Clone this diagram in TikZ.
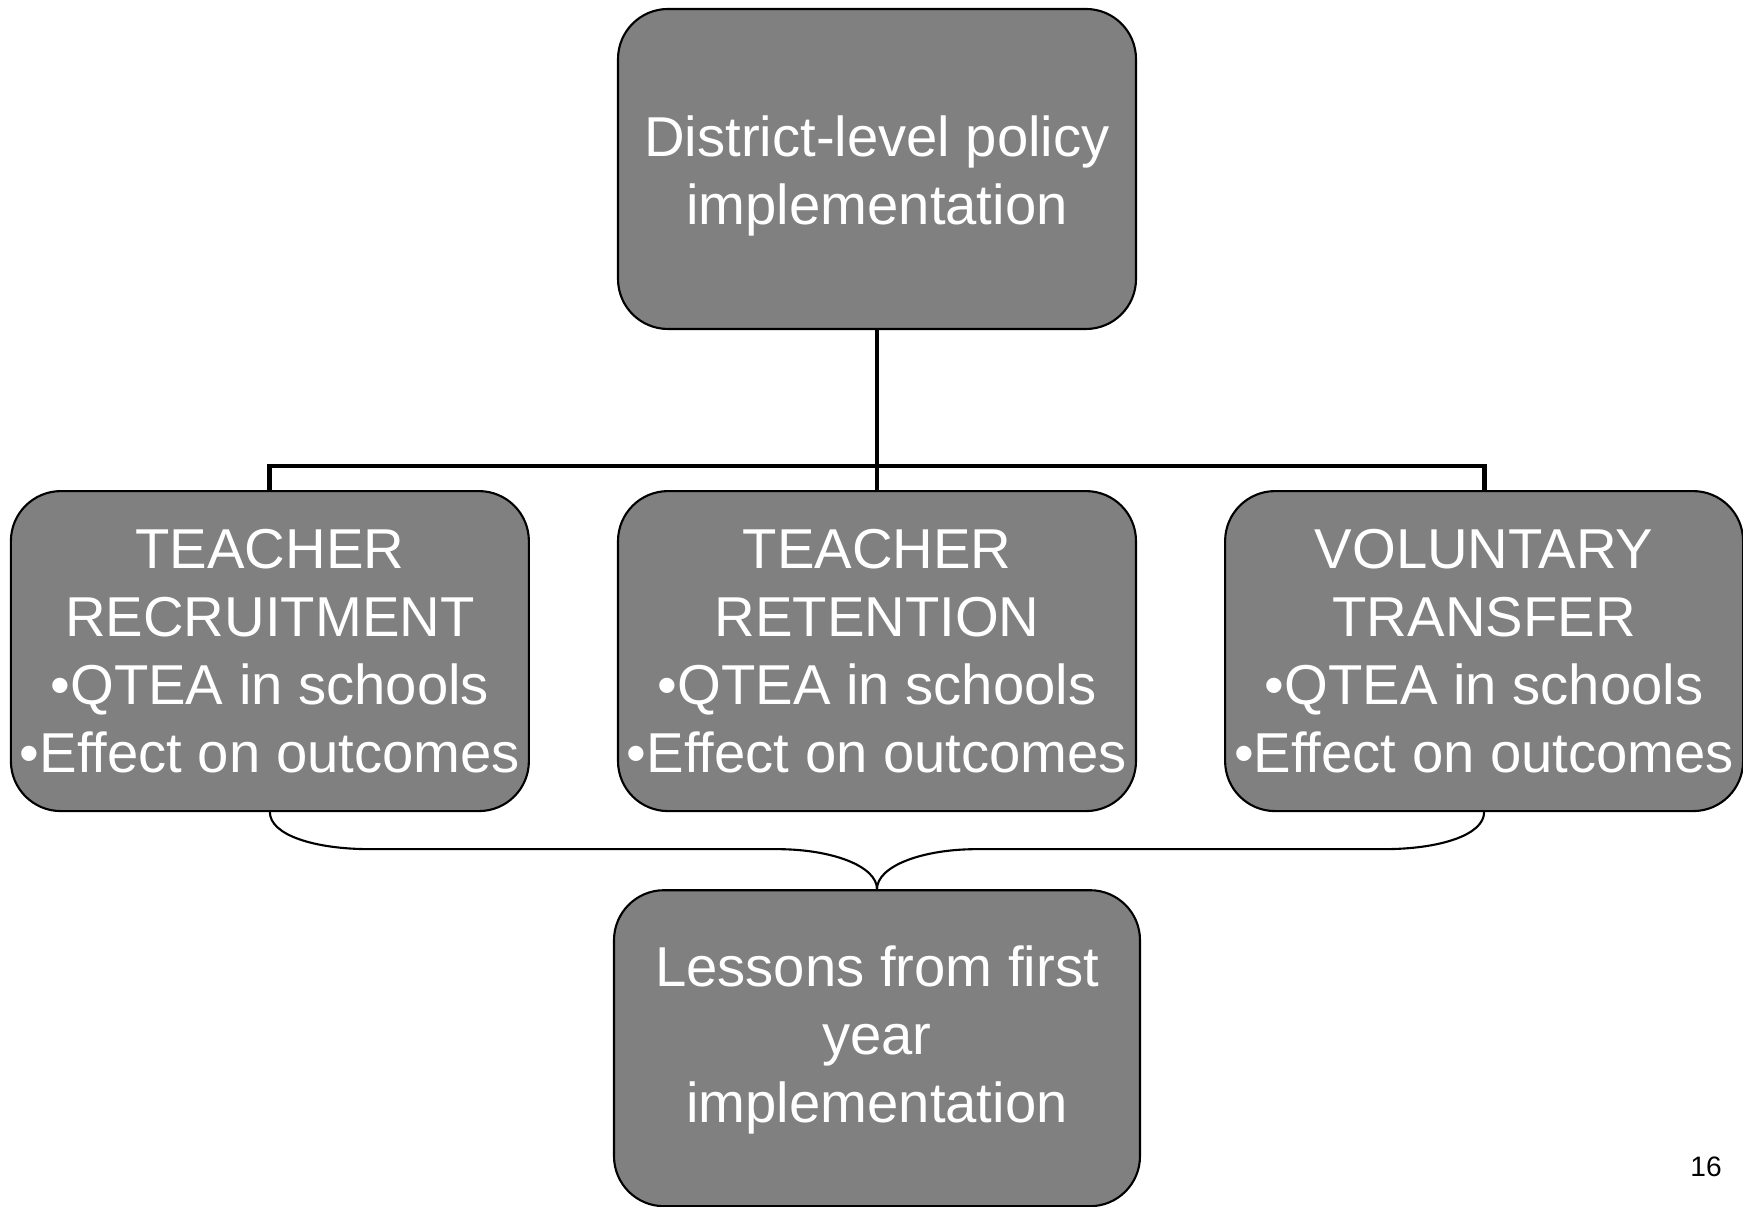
\documentclass[tikz,border=0pt]{standalone}
\usepackage{fontspec}
\setmainfont{Liberation Sans}
\usepackage{tikz}
\usetikzlibrary{calc}
\usetikzlibrary{positioning}
\definecolor{boxgray}{RGB}{128,128,128}

\begin{document}
\begin{tikzpicture}[node distance=0.87cm,
  block/.style={draw=black,line width=0.6pt,fill=boxgray,text=white,rounded corners=0.5cm,
    minimum width=5.18cm,minimum height=3.2cm,inner sep=1pt,align=center,
    font=\fontsize{16}{19.3}\selectfont},
  bus/.style={draw=black,line width=1.4pt},
  brace/.style={draw=black,line width=0.6pt}]

\useasboundingbox (0,0) rectangle (17.43,12.07);

\node[block] (policy) at (8.77,10.38) {\rule{0pt}{15.8pt}District-level policy\\implementation};

\node[block,below=1.6cm of policy] (retention) {TEACHER\\RETENTION\\•QTEA in schools\\•Effect on outcomes};
\node[block,left=of retention] (recruit) {TEACHER\\RECRUITMENT\\•QTEA in schools\\•Effect on outcomes};
\node[block,right=of retention] (transfer) {VOLUNTARY\\TRANSFER\\•QTEA in schools\\•Effect on outcomes};

\node[block,minimum width=5.26cm,minimum height=3.16cm,below=0.77cm of retention] (lessons) {Lessons from first\\year\\implementation\\[-0.4cm]};

% tree from the top box to the three topics
\draw[bus] (policy.south) -- (retention.north);
\draw[bus] (recruit.north) -- ++(0,0.24) -| (transfer.north);

% curly brace joining the topics into the last box
\coordinate (braceline) at ($(lessons.north)+(0,0.40)$);
\coordinate (lbend) at ($(recruit.south)+(1,0)$);
\coordinate (rbend) at ($(transfer.south)+(-1,0)$);
\draw[brace] (recruit.south) .. controls +(0,-0.23) and +(-0.55,0) .. (lbend |- braceline)
  -- ($(braceline)+(-1,0)$) .. controls +(0.55,0) and +(0,0.23) .. (lessons.north);
\draw[brace] (transfer.south) .. controls +(0,-0.23) and +(0.55,0) .. (rbend |- braceline)
  -- ($(braceline)+(1,0)$) .. controls +(-0.55,0) and +(0,0.23) .. (lessons.north);

\node (pagenum) at (17.06,0.40) {\fontsize{8}{9}\selectfont 16};
\end{tikzpicture}
\end{document}
